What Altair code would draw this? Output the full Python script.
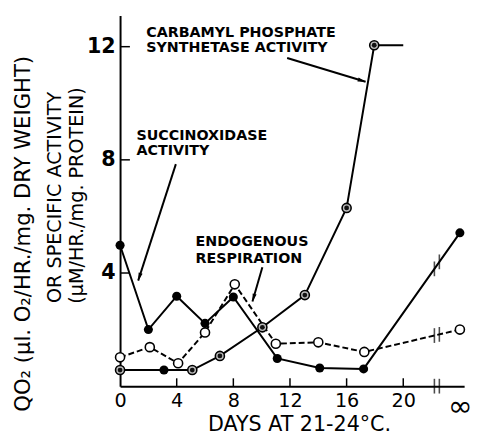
import altair as alt
import pandas as pd
import numpy as np

# ---------------- data ----------------
succ_days = [0, 2, 4, 6, 8, 11.1, 14.1, 17.2, 24]
succ_vals = [4.98, 2.0, 3.18, 2.22, 3.15, 0.98, 0.64, 0.61, 5.42]

endo_days = [0, 2.1, 4.1, 6.0, 8.1, 11.0, 14.0, 17.25, 24]
endo_vals = [1.02, 1.38, 0.81, 1.9, 3.6, 1.5, 1.55, 1.21, 2.0]

carb_days = [0, 3.1, 5.1, 7.05, 10.05, 13.05, 16.0, 17.95, 20.0]
carb_vals = [0.57, 0.57, 0.57, 1.07, 2.08, 3.22, 6.3, 12.05, 12.05]
carb_marker = ["dot", "solid", "dot", "dot", "dot", "dot", "dot", "dot", "none"]

x_tick_values = [0, 4, 8, 12, 16, 20, 24]
x_minor_ticks = [4, 8, 12, 16, 20]
y_tick_values = [4, 8, 12]
break_days = [22.2, 22.55]

ann_text = ["CARBAMYL PHOSPHATE", "SYNTHETASE ACTIVITY",
            "SUCCINOXIDASE", "ACTIVITY",
            "ENDOGENOUS", "RESPIRATION"]
ann_x = [1.85, 1.85, 1.16, 1.16, 5.33, 5.33]
ann_y = [12.47, 11.96, 8.85, 8.32, 5.09, 4.51]

arrow_x1 = [11.8, 3.94, 10.05]
arrow_y1 = [11.6, 7.85, 4.2]
arrow_x2 = [17.34, 1.28, 9.35]
arrow_y2 = [10.76, 3.73, 2.99]

y_title_lines = ["QO\u2082 (\u00b5l. O\u2082/HR./mg. DRY WEIGHT)",
                 "OR SPECIFIC ACTIVITY",
                 "(\u00b5M/HR./mg. PROTEIN)"]
y_title_px = [-98, -66, -44]
y_title_py = [222, 185, 183]
y_title_size = [21.5, 19.5, 19.5]

# ---------------- layout ----------------
W, H = 350, 377
XMAX, YMAX = 24.3, 13.1
FONT = "DejaVu Sans"

xs = alt.Scale(domain=[0, XMAX], nice=False, zero=False)
ys = alt.Scale(domain=[0, YMAX], nice=False, zero=False)

XAX = alt.Axis(values=x_tick_values, ticks=False, tickSize=0, grid=False,
               domainColor="black", domainWidth=2, labelFlush=False,
               labelFont=FONT,
               labelFontSize={"condition": {"test": "datum.value == 24", "value": 30},
                              "value": 19.5},
               labelColor="black", labelPadding=6,
               labelExpr="datum.value == 24 ? '\u221e' : datum.label",
               title="DAYS AT 21-24\u00b0C.", titleFont=FONT,
               titleFontSize=21, titleFontWeight="normal", titleColor="black",
               titleX=182, titleY=45, titleBaseline="alphabetic")
YAX = alt.Axis(values=y_tick_values, ticks=False, tickSize=0, grid=False,
               domainColor="black", domainWidth=2, labelFlush=False,
               labelFont=FONT, labelFontSize=21, labelFontWeight="bold",
               labelColor="black", labelPadding=5, title="")


def X(f="day"):
    return alt.X(f + ":Q", scale=xs, axis=XAX, title="DAYS AT 21-24\u00b0C.")


def Y(f="val"):
    return alt.Y(f + ":Q", scale=ys, axis=YAX, title="")


succ = pd.DataFrame({"day": succ_days, "val": succ_vals})
endo = pd.DataFrame({"day": endo_days, "val": endo_vals})
carb = pd.DataFrame({"day": carb_days, "val": carb_vals, "m": carb_marker})

succ_line = alt.Chart(succ).mark_line(color="black", strokeWidth=2).encode(x=X(), y=Y())
endo_line = alt.Chart(endo).mark_line(color="black", strokeWidth=2,
                                      strokeDash=[6, 3]).encode(x=X(), y=Y())
carb_line = alt.Chart(carb).mark_line(color="black", strokeWidth=2).encode(x=X(), y=Y())

# break marks
brk_rows = []
for d in break_days:
    brk_rows.append({"day": d, "val": 0.0})
    brk_rows.append({"day": d, "val": float(np.interp(d, succ_days[-2:], succ_vals[-2:]))})
    brk_rows.append({"day": d, "val": float(np.interp(d, endo_days[-2:], endo_vals[-2:]))})
brk = pd.DataFrame(brk_rows)
breaks = alt.Chart(brk).mark_tick(orient="vertical", color="black", size=15,
                                  thickness=1.6).encode(x=X(), y=Y())

# inward axis ticks
yt = pd.DataFrame({"val": y_tick_values})
y_ticks = alt.Chart(yt).mark_rule(color="black", strokeWidth=1.5).encode(
    x=alt.value(0), x2=alt.value(10), y=Y())
xt = pd.DataFrame({"day": x_minor_ticks})
x_ticks = alt.Chart(xt).mark_rule(color="black", strokeWidth=1.5).encode(
    x=X(), y=alt.value(H), y2=alt.value(H - 8))

# markers
succ_pts = alt.Chart(succ).mark_point(shape="circle", filled=True, color="black",
                                      size=85, opacity=1).encode(x=X(), y=Y())
endo_pts = alt.Chart(endo).mark_point(shape="circle", filled=True, fill="white",
                                      stroke="black", strokeWidth=1.6, size=85,
                                      opacity=1).encode(x=X(), y=Y())
carb_ring = alt.Chart(carb).transform_filter("datum.m == 'dot'").mark_point(
    shape="circle", filled=True, fill="#bbbbbb", stroke="black", strokeWidth=1.6,
    size=85, opacity=1).encode(x=X(), y=Y())
carb_dot = alt.Chart(carb).transform_filter("datum.m == 'dot'").mark_point(
    shape="circle", filled=True, color="#111", size=24, opacity=1).encode(x=X(), y=Y())
carb_solid = alt.Chart(carb).transform_filter("datum.m == 'solid'").mark_point(
    shape="circle", filled=True, color="black", size=85, opacity=1).encode(x=X(), y=Y())

# annotations
ann = pd.DataFrame({"t": ann_text, "day": ann_x, "val": ann_y})
ann_layer = alt.Chart(ann).mark_text(font=FONT, fontWeight="bold", fontSize=14.5,
                                     align="left", baseline="middle",
                                     color="black").encode(x=X(), y=Y(), text="t:N")

ang = []
for a, b, c, d in zip(arrow_x1, arrow_y1, arrow_x2, arrow_y2):
    dx = (c - a) * W / XMAX
    dy = -(d - b) * H / YMAX
    ang.append(float(np.degrees(np.arctan2(dx, -dy)) % 360))
arr = pd.DataFrame({"day": arrow_x1, "val": arrow_y1, "day2": arrow_x2,
                    "val2": arrow_y2, "ang": ang})
arrow_lines = alt.Chart(arr).mark_rule(color="black", strokeWidth=2).encode(
    x=X(), y=Y(), x2="day2:Q", y2="val2:Q")
arrow_heads = alt.Chart(arr).mark_point(
    shape="M0,0L-0.6,2.3L0.6,2.3Z", filled=True, color="black", size=49,
    opacity=1).encode(x=X("day2"), y=Y("val2"),
                      angle=alt.Angle("ang:Q", scale=None))

# y title (three rotated lines)
title_layers = []
for t, px, py, fs in zip(y_title_lines, y_title_px, y_title_py, y_title_size):
    title_layers.append(
        alt.Chart(pd.DataFrame({"t": [t]})).mark_text(
            font=FONT, fontSize=fs, angle=270, align="center", baseline="middle",
            color="black").encode(x=alt.value(px), y=alt.value(py), text="t:N"))

chart = alt.layer(
    succ_line, endo_line, carb_line, breaks, y_ticks, x_ticks,
    arrow_lines, arrow_heads,
    succ_pts, endo_pts, carb_ring, carb_dot, carb_solid,
    ann_layer, *title_layers,
).properties(
    width=W, height=H,
    autosize=alt.AutoSizeParams(type="none"),
    padding={"left": 114, "top": 4, "right": 8, "bottom": 47},
    background="white",
).configure_view(stroke=None)

chart.save("out.html", embed_options={"renderer": "svg", "actions": False})
